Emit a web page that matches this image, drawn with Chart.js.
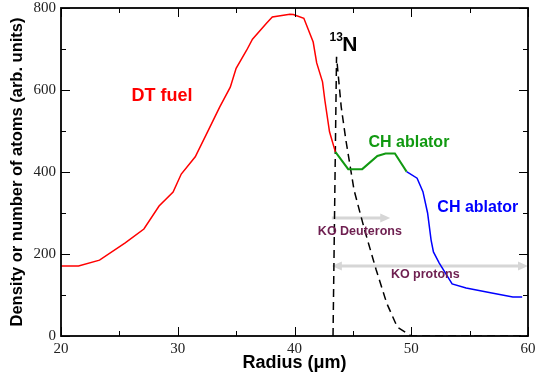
<!DOCTYPE html>
<html>
<head>
<meta charset="utf-8">
<script src="https://cdn.jsdelivr.net/npm/chart.js@4"></script>
<style>
  html, body { margin: 0; padding: 0; background: #fff; }
  canvas { display: block; }
</style>
</head>
<body>
<canvas id="c" width="536" height="377"></canvas>
<script>
// ---- Data ----
const dtRadius = [20, 21.5, 23.3, 25.5, 27.1, 28.4, 29.6, 30.3, 31.5, 32.5, 33.6, 34.5, 35.0, 35.9, 36.4, 37.6, 38.1, 39.6, 39.9, 40.8, 41.6, 41.9, 42.4, 42.6, 43.0, 43.5];
const dtValue  = [171, 171, 185, 227, 261, 317, 351, 395, 437, 495, 559, 607, 653, 697, 724, 763, 778, 785, 784, 775, 717, 666, 620, 575, 498, 449];

const chGreenRadius = [43.5, 44.6, 45.8, 47.1, 47.8, 48.6, 49.6];
const chGreenValue  = [449, 407, 407, 439, 445, 445, 401];

const chBlueRadius = [49.6, 50.5, 51.0, 51.4, 51.7, 51.9, 52.4, 53.5, 54.7, 56.9, 58.7, 59.5];
const chBlueValue  = [401, 385, 352, 300, 234, 205, 178, 127, 117, 105, 95, 95];

const n13Radius = [43.3, 43.6, 44.0, 44.4, 45.1, 46.0, 47.0, 47.9, 48.8, 49.6, 50.0, 60.0];
const n13Value  = [0, 681, 559, 478, 356, 259, 161, 80, 22, 7, 0, 0];

const xMajorTicks = [20, 30, 40, 50, 60];
const xMinorTicks = [25, 35, 45, 55];
const yMajorTicks = [0, 200, 400, 600, 800];
const yMinorTicks = [100, 300, 500, 700];

// Annotation arrows (data coordinates): [x start, x end, y, head at start, head at end]
const arrowDeuterons = [43.2, 48.2, 288, false, true];
const arrowProtons   = [43.2, 60.0, 171, true, true];

// Text labels: [text, x, y, color, font]
const textLabels = [
  ["DT fuel", 28.65, 585, "#ff0000", "bold 18px 'Liberation Sans', Arial, sans-serif"],
  ["CH ablator", 49.8, 471, "#119911", "bold 16px 'Liberation Sans', Arial, sans-serif"],
  ["CH ablator", 55.7, 312, "#0000ff", "bold 16px 'Liberation Sans', Arial, sans-serif"],
  ["KO Deuterons", 45.6, 254, "#6e1f50", "bold 12.5px 'Liberation Sans', Arial, sans-serif"],
  ["KO protons", 51.2, 151, "#6e1f50", "bold 12.5px 'Liberation Sans', Arial, sans-serif"]
];
const n13Label = { sup: "13", main: "N", x: 44.75, y: 710 };

function pts(xs, ys) { return xs.map((x, i) => ({ x: x, y: ys[i] })); }

const decorPlugin = {
  id: 'decor',
  beforeDatasetsDraw(chart) {
    const ctx = chart.ctx, xs = chart.scales.x, ys = chart.scales.y;
    ctx.save();
    ctx.strokeStyle = '#d6d6d6';
    ctx.fillStyle = '#d6d6d6';
    ctx.lineWidth = 3;
    [arrowDeuterons, arrowProtons].forEach(a => {
      const x1 = xs.getPixelForValue(a[0]), x2 = xs.getPixelForValue(a[1]), y = ys.getPixelForValue(a[2]);
      const hl = 10, hw = 4.5;
      ctx.beginPath();
      ctx.moveTo(x1 + (a[3] ? hl - 1 : 0), y);
      ctx.lineTo(x2 - (a[4] ? hl - 1 : 0), y);
      ctx.stroke();
      if (a[3]) { ctx.beginPath(); ctx.moveTo(x1, y); ctx.lineTo(x1 + hl, y - hw); ctx.lineTo(x1 + hl, y + hw); ctx.closePath(); ctx.fill(); }
      if (a[4]) { ctx.beginPath(); ctx.moveTo(x2, y); ctx.lineTo(x2 - hl, y - hw); ctx.lineTo(x2 - hl, y + hw); ctx.closePath(); ctx.fill(); }
    });
    ctx.restore();
  },
  afterDatasetsDraw(chart) {
    const ctx = chart.ctx, xs = chart.scales.x, ys = chart.scales.y, ca = chart.chartArea;
    ctx.save();
    // frame
    ctx.strokeStyle = '#000';
    ctx.lineWidth = 1.8;
    ctx.strokeRect(ca.left, ca.top, ca.right - ca.left, ca.bottom - ca.top);
    // inward ticks
    ctx.lineWidth = 1;
    const tick = (vals, len, axis) => {
      vals.forEach(v => {
        ctx.beginPath();
        if (axis === 'x') {
          const p = Math.round(xs.getPixelForValue(v)) + 0.5;
          ctx.moveTo(p, ca.bottom); ctx.lineTo(p, ca.bottom - len);
          ctx.moveTo(p, ca.top); ctx.lineTo(p, ca.top + len);
        } else {
          const p = Math.round(ys.getPixelForValue(v)) + 0.5;
          ctx.moveTo(ca.left, p); ctx.lineTo(ca.left + len, p);
          ctx.moveTo(ca.right, p); ctx.lineTo(ca.right - len, p);
        }
        ctx.stroke();
      });
    };
    tick(xMajorTicks, 9, 'x'); tick(xMinorTicks, 5, 'x');
    tick(yMajorTicks, 9, 'y'); tick(yMinorTicks, 5, 'y');
    // text labels
    ctx.textAlign = 'center';
    ctx.textBaseline = 'middle';
    textLabels.forEach(t => {
      ctx.fillStyle = t[3];
      ctx.font = t[4];
      ctx.fillText(t[0], xs.getPixelForValue(t[1]), ys.getPixelForValue(t[2]));
    });
    // 13N label
    const nx = xs.getPixelForValue(n13Label.x), ny = ys.getPixelForValue(n13Label.y);
    ctx.fillStyle = '#000';
    ctx.font = "bold 21px 'Liberation Sans', Arial, sans-serif";
    ctx.textAlign = 'center';
    ctx.fillText(n13Label.main, nx, ny);
    ctx.font = "bold 12px 'Liberation Sans', Arial, sans-serif";
    ctx.textAlign = 'right';
    ctx.fillText(n13Label.sup, nx - 7, ny - 7);
    ctx.restore();
  }
};

new Chart(document.getElementById('c'), {
  type: 'scatter',
  data: {
    datasets: [
      { label: 'DT fuel', data: pts(dtRadius, dtValue), showLine: true, borderColor: '#ff0000', borderWidth: 1.5, pointRadius: 0, tension: 0 },
      { label: 'CH ablator (green)', data: pts(chGreenRadius, chGreenValue), showLine: true, borderColor: '#119911', borderWidth: 2, pointRadius: 0, tension: 0 },
      { label: 'CH ablator (blue)', data: pts(chBlueRadius, chBlueValue), showLine: true, borderColor: '#0000ff', borderWidth: 1.5, pointRadius: 0, tension: 0 },
      { label: '13N', data: pts(n13Radius, n13Value), showLine: true, borderColor: '#000000', borderWidth: 1.5, borderDash: [8, 5], pointRadius: 0, tension: 0 }
    ]
  },
  options: {
    responsive: false,
    animation: false,
    layout: { padding: { top: 0, right: 0, left: 0, bottom: 0 } },
    plugins: { legend: { display: false }, tooltip: { enabled: false } },
    scales: {
      x: {
        type: 'linear', min: 20, max: 60,
        grid: { display: false, drawTicks: false },
        border: { display: false },
        afterFit(s) { s.height = 41; s.paddingRight = 8; },
        afterBuildTicks(s) { s.ticks = xMajorTicks.map(v => ({ value: v })); },
        ticks: { padding: 4, color: '#222', font: { family: "'Liberation Serif', 'Times New Roman', serif", size: 15 } },
        title: { display: true, text: 'Radius (μm)', color: '#000', padding: { top: 0, bottom: 3 }, font: { family: "'Liberation Sans', Arial, sans-serif", size: 18, weight: 'bold' } }
      },
      y: {
        type: 'linear', min: 0, max: 800,
        grid: { display: false, drawTicks: false },
        border: { display: false },
        afterFit(s) { s.width = 61; s.paddingTop = 8; },
        afterBuildTicks(s) { s.ticks = yMajorTicks.map(v => ({ value: v })); },
        ticks: { padding: 5, color: '#222', font: { family: "'Liberation Serif', 'Times New Roman', serif", size: 15 } },
        title: { display: true, text: 'Density or number of atoms (arb. units)', color: '#000', padding: { top: 8, bottom: 0 }, font: { family: "'Liberation Sans', Arial, sans-serif", size: 16.5, weight: 'bold' } }
      }
    }
  },
  plugins: [decorPlugin]
});
</script>
</body>
</html>
